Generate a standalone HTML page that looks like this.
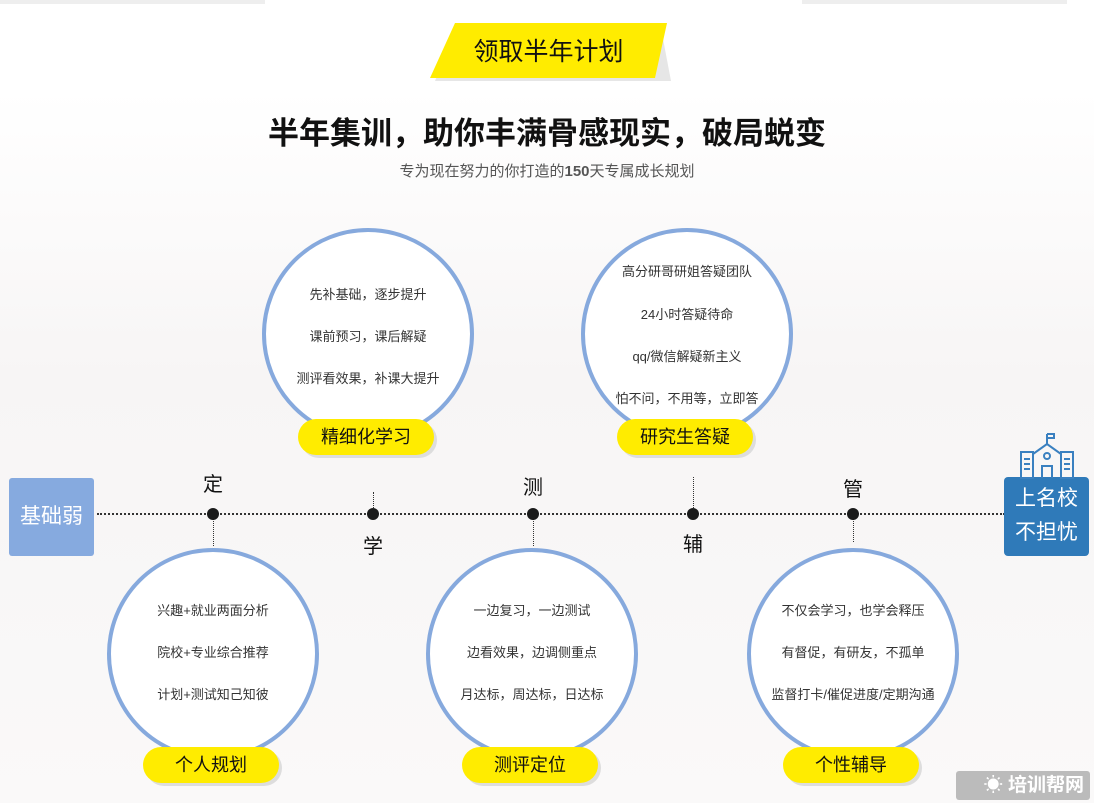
<!DOCTYPE html>
<html><head><meta charset="utf-8"><style>
body{margin:0;width:1094px;height:803px;overflow:hidden;background:#fff;position:relative;font-family:"Liberation Sans","Noto Sans CJK SC",sans-serif;}
.abs{position:absolute}
.circ{position:absolute;width:204px;height:204px;border:4px solid #86a9dd;border-radius:50%;background:#fff;}
.circ div{position:absolute;left:0;right:0;text-align:center;font-size:13px;color:#333;}
.pill{position:absolute;width:136px;height:36px;border-radius:18px;background:#ffec00;text-align:center;line-height:36px;font-size:18px;color:#111;box-shadow:3px 3px 0 #ddd;}
.lbl{position:absolute;font-size:20px;color:#111;width:30px;text-align:center}
.dot{position:absolute;width:12px;height:12px;border-radius:50%;background:#1a1a1a}
.vl{position:absolute;border-left:1.5px dotted #333;width:0}
</style></head><body>
<div class="abs" style="left:0;top:90px;width:1094px;height:713px;background:linear-gradient(180deg,#fff 0%,#f7f5f5 40%,#faf9f9 100%)"></div>
<div class="abs" style="left:0;top:0;width:265px;height:4px;background:#eee"></div>
<div class="abs" style="left:802px;top:0;width:265px;height:4px;background:#eee"></div>
<svg class="abs" style="left:425px;top:20px" width="250" height="66"><polygon points="10,61 246,61 235,3 34,3" fill="#e6e6e6"/><polygon points="5,58 230,58 242,3 30,3" fill="#ffec00"/></svg>
<div class="abs" style="left:430px;top:30px;width:237px;text-align:center;font-size:25px;color:#111;line-height:44px">领取半年计划</div>
<div class="abs" style="left:0;top:108px;width:1094px;text-align:center;font-size:31px;font-weight:bold;color:#111">半年集训，助你丰满骨感现实，破局蜕变</div>
<div class="abs" style="left:0;top:160px;width:1094px;text-align:center;font-size:15px;color:#555">专为现在努力的你打造的<b>150</b>天专属成长规划</div>

<div class="abs" style="left:97px;top:513px;width:908px;border-top:2px dotted #333"></div>
<div class="vl" style="left:213px;top:514px;height:32px"></div>
<div class="vl" style="left:373px;top:492px;height:22px"></div>
<div class="vl" style="left:533px;top:514px;height:32px"></div>
<div class="vl" style="left:693px;top:477px;height:37px"></div>
<div class="vl" style="left:853px;top:514px;height:28px"></div>
<div class="dot" style="left:207px;top:508px"></div>
<div class="dot" style="left:367px;top:508px"></div>
<div class="dot" style="left:527px;top:508px"></div>
<div class="dot" style="left:687px;top:508px"></div>
<div class="dot" style="left:847px;top:508px"></div>
<div class="lbl" style="left:198px;top:468px">定</div>
<div class="lbl" style="left:358px;top:530px">学</div>
<div class="lbl" style="left:518px;top:471px">测</div>
<div class="lbl" style="left:678px;top:528px">辅</div>
<div class="lbl" style="left:838px;top:473px">管</div>

<div class="abs" style="left:9px;top:478px;width:85px;height:78px;background:#86aadf;border-radius:3px;color:#fff;font-size:21px;text-align:center;line-height:78px">基础弱</div>
<div class="abs" style="left:1004px;top:477px;width:85px;height:79px;background:#2f7ab9;border-radius:4px;color:#fff;font-size:21px;text-align:center;line-height:34px;padding-top:5px;box-sizing:border-box">上名校<br>不担忧</div>
<svg class="abs" style="left:1018px;top:432px" width="58" height="47" fill="none" stroke="#3a80c0" stroke-width="2"><path d="M29 2v10M29 2h7v4h-7"/><path d="M15 46V22l14-10 14 10v24"/><rect x="3" y="20" width="12" height="26"/><rect x="43" y="20" width="12" height="26"/><circle cx="29" cy="24" r="3"/><path d="M24 46V34h10v12"/><path d="M6 27h6M6 32h6M6 37h6M46 27h6M46 32h6M46 37h6"/></svg>

<div class="circ" style="left:262px;top:228px"><div style="top:52px">先补基础，逐步提升</div><div style="top:94px">课前预习，课后解疑</div><div style="top:136px">测评看效果，补课大提升</div></div>
<div class="circ" style="left:581px;top:228px"><div style="top:29px">高分研哥研姐答疑团队</div><div style="top:72px">24小时答疑待命</div><div style="top:114px">qq/微信解疑新主义</div><div style="top:156px">怕不问，不用等，立即答</div></div>
<div class="circ" style="left:107px;top:548px"><div style="top:48px">兴趣+就业两面分析</div><div style="top:90px">院校+专业综合推荐</div><div style="top:132px">计划+测试知己知彼</div></div>
<div class="circ" style="left:426px;top:548px"><div style="top:48px">一边复习，一边测试</div><div style="top:90px">边看效果，边调侧重点</div><div style="top:132px">月达标，周达标，日达标</div></div>
<div class="circ" style="left:747px;top:548px"><div style="top:48px">不仅会学习，也学会释压</div><div style="top:90px">有督促，有研友，不孤单</div><div style="top:132px">监督打卡/催促进度/定期沟通</div></div>

<div class="pill" style="left:298px;top:419px">精细化学习</div>
<div class="pill" style="left:617px;top:419px">研究生答疑</div>
<div class="pill" style="left:143px;top:747px">个人规划</div>
<div class="pill" style="left:462px;top:747px">测评定位</div>
<div class="pill" style="left:783px;top:747px">个性辅导</div>

<div class="abs" style="left:956px;top:771px;width:134px;height:29px;background:#bbb;border-radius:3px;color:#fff;font-size:19px;font-weight:bold;line-height:29px;text-align:right;padding-right:6px;box-sizing:border-box">☀ 培训帮网</div>
</body></html>
